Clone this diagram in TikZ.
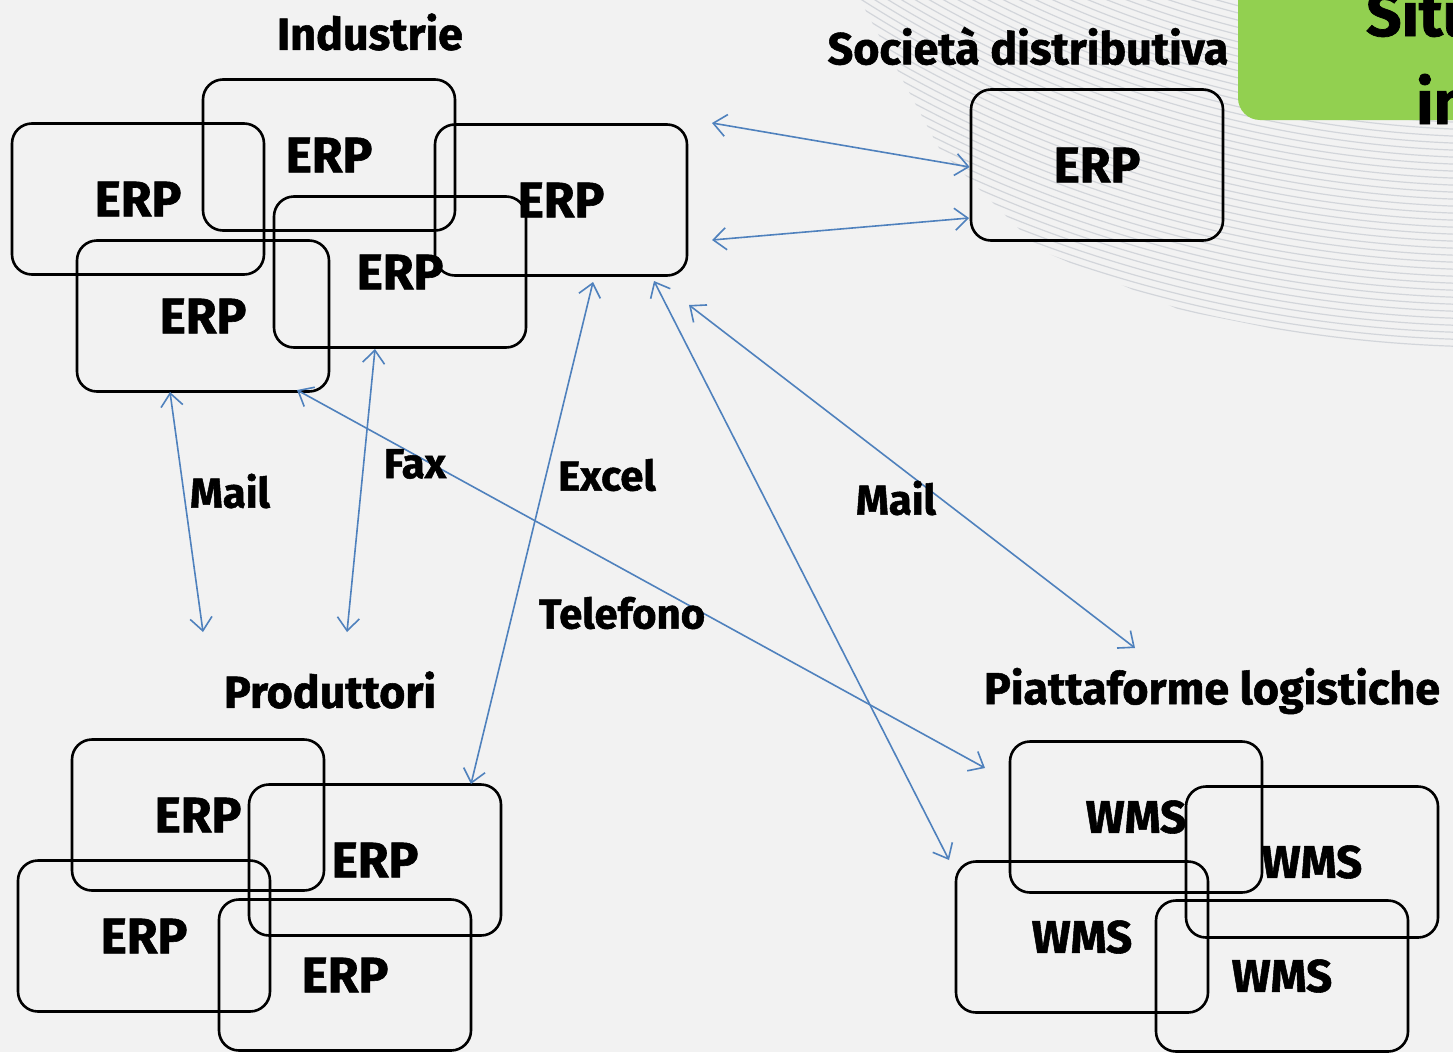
\documentclass[tikz,border=0pt]{standalone}
\usepackage{fontspec}
\setmainfont{Fira Sans}[BoldFeatures={FakeBold=1.2}]
\usetikzlibrary{arrows.meta}
\definecolor{bg}{HTML}{F2F2F2}
\definecolor{arrowblue}{HTML}{4F81BD}
\definecolor{green1}{HTML}{92D050}
\definecolor{stripe}{HTML}{D2D5DA}
\begin{document}
\begin{tikzpicture}[x=1bp,y=-1bp,
  sysbox/.style={draw=black, line width=2.6bp, rounded corners=20bp,
    minimum width=252bp, minimum height=151bp, inner sep=0pt,
    font=\bfseries\fontsize{50}{58}\selectfont},
  title/.style={font=\bfseries\fontsize{45}{52}\selectfont, inner sep=0pt},
  elabel/.style={font=\bfseries\fontsize{42}{50}\selectfont, inner sep=0pt},
  link/.style={draw=arrowblue, line width=1.6bp,
    {Straight Barb[length=13bp,width=22bp]}-{Straight Barb[length=13bp,width=22bp]}}
]
\useasboundingbox (0,0) rectangle (1453,1052);
\fill[bg] (0,0) rectangle (1453,1052);
\clip (0,0) rectangle (1453,1052);

% background stripes
\begin{scope}
  \clip (860,0) -- (1453,0) -- (1453,350) -- (1330,340) -- (1180,310) -- (1040,250) -- (940,150) -- cycle;
  \foreach \r in {990,997,...,1360}{
    \draw[stripe, line width=1.2bp] (1500,-1000) ++(180:\r) arc[start angle=180, end angle=90, radius=\r];
  }
\end{scope}

% green title box
\fill[green1, rounded corners=22bp] (1238,-40) rectangle (1500,120);
\node[anchor=base west, inner sep=0pt, font=\bfseries\fontsize{62}{70}\selectfont] (t1) at (1366,36) {Situ};
\node[anchor=base west, inner sep=0pt, font=\bfseries\fontsize{62}{70}\selectfont] (t2) at (1416,124) {in};

% titles
\node[title] (tind) at (370,32) {Industrie};
\node[title] (tsoc) at (1028,46) {Società distributiva};
\node[title] (tprod) at (330,690) {Produttori};
\node[title] (tpiat) at (1212,691) {Piattaforme logistiche};

% Industrie
\node[sysbox] (i1) at (138,199) {ERP};
\node[sysbox] (i2) at (329,155) {ERP};
\node[sysbox] (i3) at (561,200) {ERP};
\node[sysbox] (i4) at (400,272) {ERP};
\node[sysbox] (i5) at (203,316) {ERP};

% Societa distributiva
\node[sysbox] (s1) at (1097,165) {ERP};

% Produttori
\node[sysbox] (p1) at (198,815) {ERP};
\node[sysbox] (p2) at (375,860) {ERP};
\node[sysbox] (p3) at (144,936) {ERP};
\node[sysbox] (p4) at (345,975) {ERP};

% Piattaforme logistiche
\node[sysbox, font=\bfseries\fontsize{46}{54}\selectfont] (w1) at (1136,817) {WMS};
\node[sysbox, font=\bfseries\fontsize{46}{54}\selectfont] (w2) at (1312,862) {WMS};
\node[sysbox, font=\bfseries\fontsize{46}{54}\selectfont] (w3) at (1082,937) {WMS};
\node[sysbox, font=\bfseries\fontsize{46}{54}\selectfont] (w4) at (1282,976) {WMS};

% connector end points
\coordinate (a1) at (712,123);
\coordinate (b1) at ([yshift=-2bp]s1.west);
\coordinate (a2) at (712,240);
\coordinate (b2) at (969,218);
\coordinate (mailtop) at (170,392);
\coordinate (mailbot) at (203,632);
\coordinate (faxtop) at (375,349);
\coordinate (faxbot) at (347,632);
\coordinate (teltop) at (297,390);
\coordinate (telbot) at (985,768);
\coordinate (exctop) at (593,282);
\coordinate (excbot) at (471,784);
\coordinate (ctop) at (654,281);
\coordinate (cbot) at (949,860);
\coordinate (mrtop) at (689,305);
\coordinate (mrbot) at (1135,648);

\draw[link] (a1) -- (b1);
\draw[link] (a2) -- (b2);
\draw[link] (mailtop) -- (mailbot);
\draw[link] (faxtop) -- (faxbot);
\draw[link] (teltop) -- (telbot);
\draw[link] (exctop) -- (excbot);
\draw[link] (ctop) -- (cbot);
\draw[link] (mrtop) -- (mrbot);

% connector labels
\node[elabel] (lmail1) at (230,491) {Mail};
\node[elabel] (lfax) at (415,464) {Fax};
\node[elabel] (lexcel) at (607,475) {Excel};
\node[elabel] (ltel) at (622,613) {Telefono};
\node[elabel] (lmail2) at (896,498) {Mail};
\end{tikzpicture}
\end{document}
